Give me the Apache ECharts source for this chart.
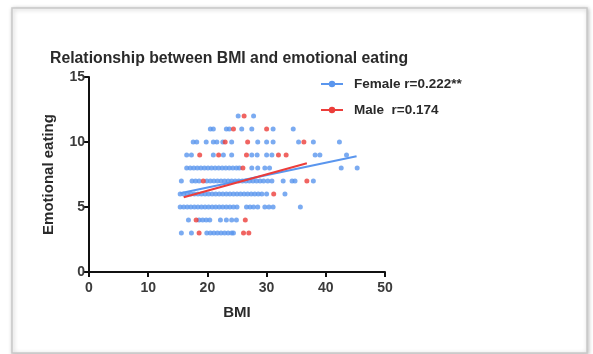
<!DOCTYPE html>
<html><head><meta charset="utf-8">
<script src="https://cdn.jsdelivr.net/npm/echarts@6/dist/echarts.min.js"></script>
<style>html,body{margin:0;padding:0;background:#fff}#c{width:593px;height:354px}</style>
</head><body><div id="c"></div>
<script>
// Female points, grouped by emotional-eating score (y) : BMI values (x)
var femaleRows = {
  3: [15.6, 17.3, 19.9, 20.5, 21.1, 21.7, 22.3, 22.9, 23.5, 24.1, 24.4],
  4: [16.8, 18.6, 19.2, 19.8, 20.4, 22.2, 23.2, 24.1, 24.9],
  5: [15.4, 16.0, 16.6, 17.2, 17.8, 18.4, 19.0, 19.6, 20.2, 20.8, 21.4, 22.0, 22.6, 23.2, 23.8, 24.4, 25.0, 26.6, 27.2, 27.8, 28.5, 29.7, 30.4, 31.1, 35.7],
  6: [15.4, 16.0, 16.6, 17.2, 17.8, 18.4, 19.0, 19.6, 20.2, 20.8, 21.4, 22.0, 22.6, 23.2, 23.8, 24.4, 25.0, 25.6, 26.2, 26.8, 27.4, 28.0, 28.6, 29.2, 30.0, 33.1],
  7: [15.6, 17.4, 18.0, 18.6, 19.9, 20.5, 21.1, 21.7, 22.3, 22.9, 23.5, 24.1, 24.7, 25.3, 25.9, 26.5, 27.1, 27.7, 28.3, 28.9, 29.5, 30.2, 30.9, 32.8, 34.3, 34.8, 37.9],
  8: [16.5, 17.1, 17.7, 18.3, 18.9, 19.5, 20.1, 20.7, 21.3, 21.9, 22.5, 23.1, 23.7, 24.3, 24.9, 25.4, 27.5, 28.5, 29.7, 30.5, 42.6, 45.3],
  9: [16.5, 17.3, 21.0, 22.7, 24.1, 27.5, 28.4, 30.0, 30.9, 38.2, 39.0, 43.5],
  10: [17.6, 18.2, 19.8, 21.0, 21.6, 22.6, 24.1, 28.5, 30.0, 31.1, 35.4, 37.9, 42.3],
  11: [20.5, 21.0, 23.2, 23.7, 25.8, 27.5, 31.1, 34.5],
  12: [25.2, 27.8]
};
// Male points, grouped by emotional-eating score (y) : BMI values (x)
var maleRows = {
  3: [18.6, 26.1, 27.0],
  4: [18.1, 26.4],
  6: [31.2],
  7: [19.3, 36.8],
  8: [26.0],
  9: [18.7, 21.9, 26.6, 32.0, 33.3],
  10: [23.0, 26.8, 36.3],
  11: [24.4, 30.0],
  12: [26.2]
};
// Regression lines (endpoints)
var femaleFit = [[15.4, 6.05], [45.2, 8.9]];
var maleFit = [[16.0, 5.75], [36.8, 8.36]];
var xTicks = [0, 10, 20, 30, 40, 50];
var yTicks = [0, 5, 10, 15];
var femaleName = 'Female r=0.222**';
var maleName = 'Male  r=0.174';

function toPoints(rows) {
  var out = [];
  Object.keys(rows).forEach(function (k) {
    rows[k].forEach(function (x) { out.push([x, Number(k)]); });
  });
  return out;
}
var BLUE = '#5a96ee', RED = '#ec3d3a';
var FONT = 'Liberation Sans, Arial';
var chart = echarts.init(document.getElementById('c'));
var axisLabel = {color: '#3a3a3a', fontFamily: FONT, fontWeight: 'bold', fontSize: 14};
chart.setOption({
  animation: false,
  graphic: [{
    type: 'rect', z: -10,
    shape: {x: 12, y: 8, width: 575, height: 345},
    style: {fill: '#fff', stroke: '#c9c9c9', lineWidth: 1.5, shadowBlur: 4, shadowColor: 'rgba(0,0,0,0.25)', shadowOffsetX: 1, shadowOffsetY: 1}
  }],
  title: {
    text: 'Relationship between BMI and emotional eating',
    left: 45, top: 46,
    textStyle: {color: '#2a2a2a', fontFamily: FONT, fontWeight: 'bold', fontSize: 15.8}
  },
  legend: {
    orient: 'vertical', left: 315, top: 72, itemGap: 12,
    itemWidth: 22, itemHeight: 8,
    data: [femaleName, maleName],
    textStyle: {color: '#2a2a2a', fontFamily: FONT, fontWeight: 'bold', fontSize: 13.5, padding: [0, 0, 0, 6]}
  },
  grid: {left: 89, right: 208, top: 77, bottom: 82, containLabel: false},
  xAxis: {
    type: 'value', min: 0, max: 50, interval: 10,
    name: 'BMI', nameLocation: 'middle', nameGap: 33,
    nameTextStyle: {color: '#2a2a2a', fontFamily: FONT, fontWeight: 'bold', fontSize: 15},
    axisLine: {show: true, lineStyle: {color: '#111', width: 2}},
    axisTick: {show: true, length: 5, lineStyle: {color: '#111', width: 2}},
    axisLabel: Object.assign({margin: 9, formatter: function (v) { return xTicks.indexOf(v) >= 0 ? v : ''; }}, axisLabel),
    splitLine: {show: false}
  },
  yAxis: {
    type: 'value', min: 0, max: 15, interval: 5,
    name: 'Emotional eating', nameLocation: 'middle', nameGap: 33, nameRotate: 90,
    nameTextStyle: {color: '#2a2a2a', fontFamily: FONT, fontWeight: 'bold', fontSize: 15},
    axisLine: {show: true, lineStyle: {color: '#111', width: 2}},
    axisTick: {show: true, length: 5, lineStyle: {color: '#111', width: 2}},
    axisLabel: Object.assign({margin: 4, formatter: function (v) { return yTicks.indexOf(v) >= 0 ? v : ''; }}, axisLabel),
    splitLine: {show: false}
  },
  series: [
    {type: 'scatter', name: 'Female', data: toPoints(femaleRows), symbolSize: 5, itemStyle: {color: BLUE}, z: 2},
    {type: 'scatter', name: 'Male', data: toPoints(maleRows), symbolSize: 5, itemStyle: {color: RED}, z: 3},
    {type: 'line', name: femaleName, data: femaleFit, symbol: 'circle', symbolSize: 3, showSymbol: false, lineStyle: {color: BLUE, width: 2}, itemStyle: {color: BLUE}, z: 4},
    {type: 'line', name: maleName, data: maleFit, symbol: 'circle', symbolSize: 3, showSymbol: false, lineStyle: {color: RED, width: 2}, itemStyle: {color: RED}, z: 5}
  ]
});
</script></body></html>
